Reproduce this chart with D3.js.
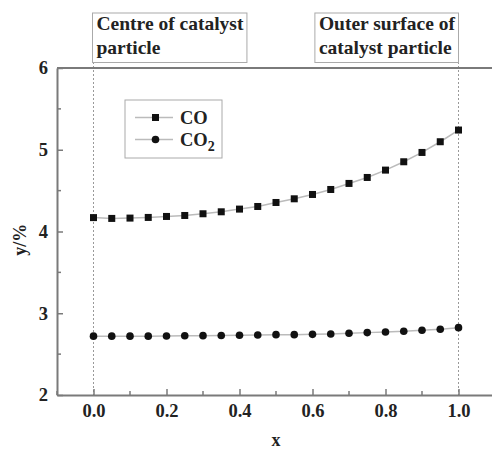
<!DOCTYPE html>
<html>
<head>
<meta charset="utf-8">
<script src="https://cdn.jsdelivr.net/npm/d3@7/dist/d3.min.js"></script>
<style>
  body { margin: 0; background: #fff; }
  svg { display: block; }
  svg text { font-family: "Liberation Serif", "Times New Roman", serif; font-weight: bold; }
</style>
</head>
<body>
<div id="chart"></div>
<script>
// positions along the particle radius
const xValues = [0, 0.05, 0.1, 0.15, 0.2, 0.25, 0.3, 0.35, 0.4, 0.45, 0.5,
                 0.55, 0.6, 0.65, 0.7, 0.75, 0.8, 0.85, 0.9, 0.95, 1.0];
// CO mole fraction (%)
const coValues = [4.17, 4.16, 4.164, 4.172, 4.184, 4.196, 4.217, 4.241, 4.274, 4.306, 4.355,
                  4.40, 4.453, 4.514, 4.588, 4.661, 4.751, 4.853, 4.967, 5.098, 5.241];
// CO2 mole fraction (%)
const co2Values = [2.72, 2.72, 2.72, 2.72, 2.722, 2.724, 2.726, 2.728, 2.73, 2.734, 2.738,
                   2.738, 2.742, 2.747, 2.755, 2.763, 2.771, 2.779, 2.792, 2.804, 2.824];
const xTicks = [0, 0.2, 0.4, 0.6, 0.8, 1.0];
const xMinorTicks = [-0.1, 0.1, 0.3, 0.5, 0.7, 0.9, 1.1];
const yTicks = [2, 3, 4, 5, 6];
const yMinorTicks = [2.5, 3.5, 4.5, 5.5];
const annotations = [
    {x: 0, lines: ["Centre of catalyst", "particle"], anchor: "start"},
    {x: 1, lines: ["Outer surface of", "catalyst particle"], anchor: "end"}
];

const width = 492, height = 450;
const margin = {top: 68, left: 57, bottom: 55};

const svg = d3.select("#chart").append("svg")
    .attr("width", width)
    .attr("height", height);

// scales
let xScale = d3.scaleLinear().domain([-0.1, 1.1]).range([margin.left, 495]);
let yScale = d3.scaleLinear().domain([2, 6]).range([height - margin.bottom, margin.top]);

const axisColor = "#7a7a7a";
const serif = "Liberation Serif";

//////// Dotted reference lines + annotation boxes
annotations.forEach(a => {
    let xp = xScale(a.x);
    svg.append("line")
        .attr("x1", xp).attr("x2", xp)
        .attr("y1", 62).attr("y2", yScale(2))
        .attr("stroke", "#999")
        .attr("stroke-width", 1)
        .attr("stroke-dasharray", "2,2");

    let g = svg.append("g");
    let txt = g.append("text")
        .attr("font-family", serif)
        .attr("font-weight", "bold")
        .attr("font-size", 19.5)
        .attr("fill", "#222");
    a.lines.forEach((l, i) => {
        txt.append("tspan")
            .attr("x", 0)
            .attr("y", 30 + i * 24)
            .text(l);
    });
    let bb = txt.node().getBBox();
    let bw = bb.width + 7;
    let bx = a.anchor === "start" ? xp - 1 : xp - bw;
    txt.attr("transform", "translate(" + (bx + 4) + ",0)");
    g.insert("rect", "text")
        .attr("x", bx).attr("y", 13)
        .attr("width", bw).attr("height", 49.5)
        .attr("fill", "white")
        .attr("stroke", "#aaa")
        .attr("stroke-width", 1);
});

//////// Axes
let xAxis = d3.axisBottom(xScale).tickValues(xTicks)
    .tickFormat(d3.format(".1f")).tickSize(-6).tickSizeOuter(0).tickPadding(9);
let gx = svg.append("g")
    .attr("transform", "translate(0," + yScale(2) + ")")
    .call(xAxis);
xMinorTicks.forEach(t => {
    gx.append("line")
        .attr("x1", xScale(t)).attr("x2", xScale(t))
        .attr("y1", 0).attr("y2", -4)
        .attr("stroke", axisColor).attr("stroke-width", 1.5);
});

let yAxis = d3.axisLeft(yScale).tickValues(yTicks)
    .tickFormat(d3.format("d")).tickSize(-6).tickSizeOuter(0).tickPadding(9);
let gy = svg.append("g")
    .attr("transform", "translate(" + margin.left + ",0)")
    .call(yAxis);
yMinorTicks.forEach(t => {
    gy.append("line")
        .attr("x1", 0).attr("x2", 4)
        .attr("y1", yScale(t)).attr("y2", yScale(t))
        .attr("stroke", axisColor).attr("stroke-width", 1.5);
});

[gx, gy].forEach(g => {
    g.select(".domain").attr("stroke", axisColor).attr("stroke-width", 2);
    g.selectAll(".tick line").attr("stroke", axisColor).attr("stroke-width", 1.5);
    g.selectAll(".tick text")
        .attr("font-family", serif)
        .attr("font-weight", "bold")
        .attr("font-size", 18.5)
        .attr("fill", "#222");
});

// top frame line
svg.append("line")
    .attr("x1", margin.left).attr("x2", width)
    .attr("y1", yScale(6)).attr("y2", yScale(6))
    .attr("stroke", axisColor).attr("stroke-width", 2);

// axis titles
svg.append("text")
    .attr("transform", "translate(26," + yScale(3.9) + ") rotate(-90)")
    .attr("text-anchor", "middle")
    .attr("font-family", serif)
    .attr("font-weight", "bold")
    .attr("font-size", 18)
    .attr("fill", "#222")
    .text("y/%");
svg.append("text")
    .attr("x", xScale(0.5))
    .attr("y", 446)
    .attr("text-anchor", "middle")
    .attr("font-family", serif)
    .attr("font-weight", "bold")
    .attr("font-size", 18)
    .attr("fill", "#222")
    .text("x");

//////// Series
let line = d3.line()
    .x((d, i) => xScale(xValues[i]))
    .y(d => yScale(d));

svg.append("path").datum(coValues)
    .attr("d", line).attr("fill", "none")
    .attr("stroke", "#bbb").attr("stroke-width", 1.5);
svg.append("path").datum(co2Values)
    .attr("d", line).attr("fill", "none")
    .attr("stroke", "#bbb").attr("stroke-width", 1.5);

svg.selectAll(".sq").data(coValues).enter().append("rect")
    .attr("class", "sq")
    .attr("x", (d, i) => xScale(xValues[i]) - 3.5)
    .attr("y", d => yScale(d) - 3.5)
    .attr("width", 7).attr("height", 7)
    .attr("fill", "#111");

svg.selectAll(".dot").data(co2Values).enter().append("circle")
    .attr("class", "dot")
    .attr("cx", (d, i) => xScale(xValues[i]))
    .attr("cy", d => yScale(d))
    .attr("r", 3.8)
    .attr("fill", "#111");

//////// Legend
let lg = svg.append("g");
lg.append("rect")
    .attr("x", 125).attr("y", 100)
    .attr("width", 97).attr("height", 58)
    .attr("fill", "white")
    .attr("stroke", "#aaa").attr("stroke-width", 1);
[117.5, 139.5].forEach((ly, i) => {
    lg.append("line")
        .attr("x1", 135).attr("x2", 173)
        .attr("y1", ly).attr("y2", ly)
        .attr("stroke", "#bbb").attr("stroke-width", 1.5);
    if (i === 0) {
        lg.append("rect")
            .attr("x", 152).attr("y", ly - 3.5)
            .attr("width", 7).attr("height", 7)
            .attr("fill", "#111");
    } else {
        lg.append("circle")
            .attr("cx", 155.5).attr("cy", ly).attr("r", 3.8)
            .attr("fill", "#111");
    }
});
lg.append("text")
    .attr("x", 180).attr("y", 124)
    .attr("font-family", serif).attr("font-weight", "bold")
    .attr("font-size", 18.5).attr("fill", "#222")
    .text("CO");
let co2Text = lg.append("text")
    .attr("x", 180).attr("y", 146)
    .attr("font-family", serif).attr("font-weight", "bold")
    .attr("font-size", 18.5).attr("fill", "#222")
    .text("CO");
co2Text.append("tspan")
    .attr("dy", 5).attr("font-size", 14)
    .text("2");
</script>
</body>
</html>
